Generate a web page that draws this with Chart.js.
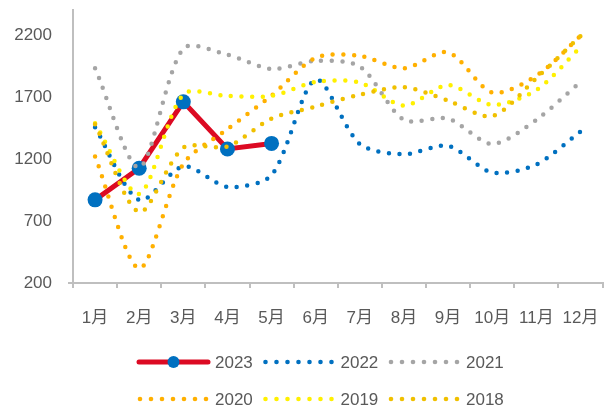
<!DOCTYPE html>
<html>
<head>
<meta charset="utf-8">
<script src="https://cdn.jsdelivr.net/npm/chart.js@4.4.1/dist/chart.umd.min.js"></script>
<style>
  html, body { margin: 0; padding: 0; background: #fff; }
  #wrap { width: 610px; height: 408px; }
</style>
</head>
<body>
<div id="wrap"><canvas id="chart" width="610" height="408"></canvas></div>
<script>
// months on the x axis
var months = ['1月', '2月', '3月', '4月', '5月', '6月', '7月', '8月', '9月', '10月', '11月', '12月'];
var yTicks = [200, 700, 1200, 1700, 2200];

// values
var y2023 = [870, 1125, 1660, 1280, 1325];
var y2022 = [1455, 868, 1140, 975, 1070, 1840, 1320, 1238, 1305, 1090, 1155, 1420];
var y2021 = [1930, 1130, 2090, 2040, 1925, 1990, 1945, 1515, 1525, 1320, 1515, 1820];
var y2020 = [1220, 318, 1160, 1440, 1710, 2015, 2030, 1930, 2060, 1735, 1870, 2190];
var y2019 = [1488, 918, 1720, 1708, 1708, 1820, 1815, 1630, 1795, 1635, 1755, 2100];
var y2018 = [1480, 772, 1290, 1300, 1525, 1622, 1718, 1778, 1670, 1545, 1850, 2190];

var FONT = "'Liberation Sans', 'Noto Sans CJK SC', Arial, sans-serif";
var TEXT = '#595959';
var AXIS = '#BFBFBF';

function dotted(label, data, color, order) {
    return {
        label: label,
        data: data,
        borderColor: color,
        backgroundColor: color,
        borderWidth: 4.5,
        borderDash: [0, 10.6],
        borderCapStyle: 'round',
        tension: 0.28,
        pointRadius: 0,
        pointHoverRadius: 0,
        order: order
    };
}

var datasets = [
    {
        label: '2023',
        data: y2023,
        borderColor: '#DC0A23',
        backgroundColor: '#0070C0',
        borderWidth: 5,
        borderCapStyle: 'round',
        tension: 0,
        pointRadius: 7.5,
        pointBackgroundColor: '#0070C0',
        pointBorderColor: '#0070C0',
        pointBorderWidth: 0,
        pointHoverRadius: 7.5,
        order: 5,
        isMarker: true
    },
    dotted('2022', y2022, '#0070C0', 4),
    dotted('2021', y2021, '#A5A5A5', 3),
    dotted('2020', y2020, '#FFB000', 2),
    dotted('2019', y2019, '#FFF000', 1),
    dotted('2018', y2018, '#F0C000', 0)
];

// two rows of three, drawn by hand under the axis
var rowLegend = {
    id: 'rowLegend',
    afterDraw: function (chart) {
        var ctx = chart.ctx;
        ctx.save();
        chart.data.datasets.forEach(function (ds, i) {
            var col = i % 3;
            var row = Math.floor(i / 3);
            var x0 = 138 + col * 125.5;
            var y = row === 0 ? 362 : 399;
            if (ds.isMarker) {
                ctx.beginPath();
                ctx.strokeStyle = ds.borderColor;
                ctx.lineWidth = 5;
                ctx.lineCap = 'round';
                ctx.moveTo(x0 + 1, y);
                ctx.lineTo(x0 + 70, y);
                ctx.stroke();
                ctx.beginPath();
                ctx.fillStyle = ds.pointBackgroundColor;
                ctx.arc(x0 + 35.5, y, 6, 0, Math.PI * 2);
                ctx.fill();
            } else {
                ctx.fillStyle = ds.borderColor;
                for (var k = 0; k < 7; k++) {
                    ctx.beginPath();
                    ctx.arc(x0 + 2 + k * 11, y, 2.3, 0, Math.PI * 2);
                    ctx.fill();
                }
            }
            ctx.fillStyle = TEXT;
            ctx.font = '17px ' + FONT;
            ctx.textAlign = 'left';
            ctx.textBaseline = 'middle';
            ctx.fillText(ds.label, x0 + 77, y + 1);
        });
        ctx.restore();
    }
};

new Chart(document.getElementById('chart'), {
    type: 'line',
    data: { labels: months, datasets: datasets },
    plugins: [rowLegend],
    options: {
        responsive: false,
        animation: false,
        devicePixelRatio: 1,
        layout: { padding: { top: 10, right: 0, bottom: 80, left: 0 } },
        plugins: {
            legend: { display: false },
            tooltip: { enabled: false }
        },
        scales: {
            x: {
                type: 'category',
                offset: true,
                grid: {
                    offset: true,
                    drawOnChartArea: false,
                    drawTicks: true,
                    tickLength: 5,
                    color: AXIS,
                    lineWidth: 2
                },
                border: { color: AXIS, width: 2 },
                ticks: {
                    color: TEXT,
                    font: { family: FONT, size: 17 },
                    padding: 20,
                    maxRotation: 0,
                    autoSkip: false
                },
                afterFit: function (s) {
                    s.height = 45;
                    s.paddingLeft = 0;
                    s.paddingRight = 0;
                }
            },
            y: {
                min: 200,
                max: 2400,
                afterBuildTicks: function (s) {
                    s.ticks = yTicks.map(function (v) { return { value: v }; });
                },
                grid: {
                    drawOnChartArea: false,
                    drawTicks: true,
                    tickLength: 5,
                    lineWidth: 2,
                    color: function (c) { return c.tick && c.tick.value === 200 ? AXIS : 'rgba(0,0,0,0)'; }
                },
                border: { color: AXIS, width: 2 },
                ticks: {
                    color: TEXT,
                    font: { family: FONT, size: 17 },
                    padding: 16,
                    callback: function (v) { return String(v); }
                },
                afterFit: function (s) {
                    s.width = 73;
                    s.paddingTop = 0;
                    s.paddingBottom = 0;
                }
            }
        }
    }
});
</script>
</body>
</html>
